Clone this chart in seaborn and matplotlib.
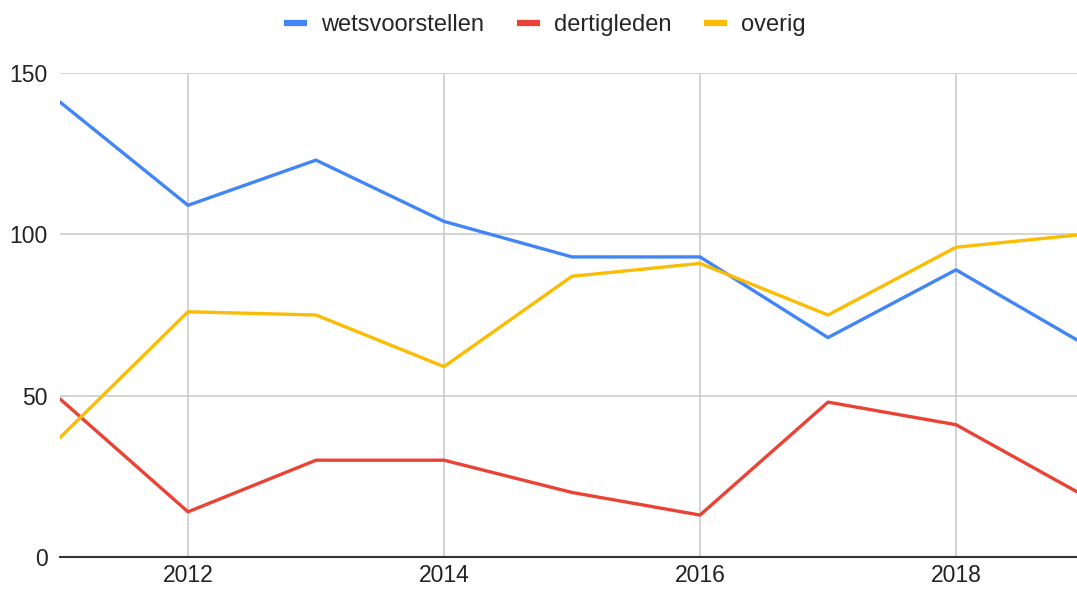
import matplotlib
matplotlib.use("Agg")
import matplotlib.pyplot as plt
from matplotlib.lines import Line2D
import pandas as pd
import seaborn as sns

years = [2011, 2012, 2013, 2014, 2015, 2016, 2017, 2018, 2019]
wetsvoorstellen = [141, 109, 123, 104, 93, 93, 68, 89, 66]
dertigleden = [49, 14, 30, 30, 20, 13, 48, 41, 19]
overig = [37, 76, 75, 59, 87, 91, 75, 96, 100]

series = ["wetsvoorstellen", "dertigleden", "overig"]
colors = ["#4285F4", "#EA4335", "#FBBC04"]

df = pd.DataFrame({
    "jaar": years * 3,
    "aantal": wetsvoorstellen + dertigleden + overig,
    "soort": [s for s in series for _ in years],
})

sns.set_style("white")
plt.rcParams["font.family"] = ["Liberation Sans", "DejaVu Sans"]

fig = plt.figure(figsize=(10.77, 5.89), dpi=100)
ax = fig.add_axes([60 / 1077, 32 / 589, 1 - 60 / 1077, 484 / 589])

sns.lineplot(data=df, x="jaar", y="aantal", hue="soort", hue_order=series,
             palette=colors, linewidth=2.4, legend=False, ax=ax)

# the reference crops the plot just before 2019
ax.set_xlim(2011, 2011 + (1077 - 60) / 128)
ax.set_ylim(0, 150)
ax.set_xticks([2012, 2014, 2016, 2018])
ax.set_yticks([0, 50, 100, 150])
ax.grid(True, color="#cccccc", linewidth=1.2)
ax.set_axisbelow(True)
for s in ["top", "right", "left"]:
    ax.spines[s].set_visible(False)
ax.spines["bottom"].set_color("#333333")
ax.spines["bottom"].set_linewidth(1.5)
ax.tick_params(axis="both", length=0, labelsize=16.5, colors="#222222")
ax.tick_params(axis="y", pad=9)
ax.tick_params(axis="x", pad=5)
ax.set_xlabel("")
ax.set_ylabel("")

handles = [Line2D([0], [0], color=c, linewidth=4.5, solid_capstyle="butt") for c in colors]
fig.legend(handles, series, loc="center", bbox_to_anchor=(545 / 1077, 1 - 25 / 589),
           ncol=3, frameon=False, fontsize=17, handlelength=0.95,
           columnspacing=1.4, handletextpad=0.6)

fig.savefig("out.png", dpi=100)
